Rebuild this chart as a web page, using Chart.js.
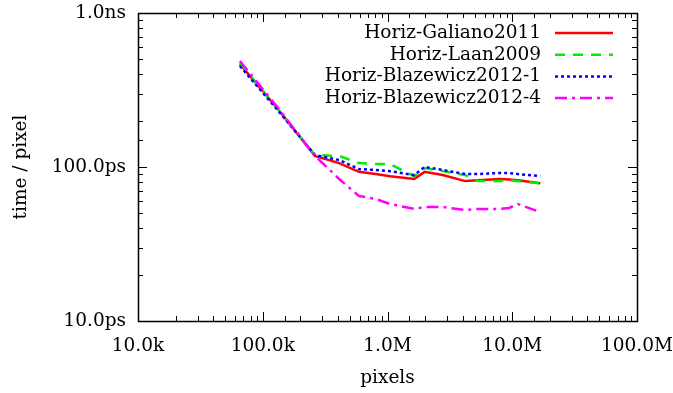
<!DOCTYPE html>
<html>
<head>
<meta charset="utf-8">
<script src="https://cdn.jsdelivr.net/npm/chart.js@4/dist/chart.umd.min.js"></script>
<style>
  html, body { margin: 0; padding: 0; background: #fff; }
  canvas { display: block; }
</style>
</head>
<body>
<canvas id="timingChart" width="673" height="393"></canvas>
<script>
// image sizes (pixels) and time per pixel (ps) for each filter
const pixelCounts = [65536, 131072, 262144, 409600, 589824, 802816, 1048576, 1638400,
  1982464, 2768896, 4194304, 5308416, 7929856, 9437184, 11075584, 16777216];
const galiano2011 = [466, 240, 118, 106, 93, 90, 87, 83.5, 93, 88.6, 81, 82, 83.5, 83, 82, 78.4];
const laan2009 = [473, 240, 119.6, 118, 106, 104.5, 104.5, 87, 98.5, 94, 88.6, 81, 81, 82, 81, 78.4];
const blazewicz1 = [453, 235, 119.6, 111, 97, 95.6, 94, 88.6, 100, 95.6, 90, 90, 91.4, 91.4, 90, 87.3];
const blazewicz4 = [488, 245, 118, 83.6, 64.8, 62.1, 57.5, 53.4, 55, 55, 52.6, 53.4, 53.4, 54.2, 57.5, 51];

const seriesNames = ["Horiz-Galiano2011", "Horiz-Laan2009", "Horiz-Blazewicz2012-1", "Horiz-Blazewicz2012-4"];

const xTickValues = [1e4, 1e5, 1e6, 1e7, 1e8];
const xTickLabels = ["10.0k", "100.0k", "1.0M", "10.0M", "100.0M"];
const yTickValues = [10, 100, 1000];
const yTickLabels = ["10.0ps", "100.0ps", "1.0ns"];

const FONT = "'DejaVu Serif', 'Liberation Serif', serif";
const FONT_SIZE = 18.5;

function toPoints(values) {
  return values.map((v, i) => ({ x: pixelCounts[i], y: v }));
}

function decadeLabel(values, labels, v) {
  const i = values.findIndex(t => Math.abs(t - v) / t < 1e-6);
  return i >= 0 ? labels[i] : "";
}

function isDecade(v) {
  const e = Math.log10(v);
  return Math.abs(e - Math.round(e)) < 1e-6;
}

// gnuplot style box with inward ticks on all four sides
const frameTicks = {
  id: "frameTicks",
  afterDatasetsDraw(chart) {
    const { ctx, chartArea, scales } = chart;
    const { left, right, top, bottom } = chartArea;
    ctx.save();
    ctx.strokeStyle = "#000";
    ctx.lineWidth = 1;
    ctx.beginPath();
    scales.x.ticks.forEach(t => {
      const px = Math.round(scales.x.getPixelForValue(t.value)) + 0.5;
      const len = isDecade(t.value) ? 9 : 5;
      ctx.moveTo(px, bottom); ctx.lineTo(px, bottom - len);
      ctx.moveTo(px, top); ctx.lineTo(px, top + len);
    });
    scales.y.ticks.forEach(t => {
      const py = Math.round(scales.y.getPixelForValue(t.value)) + 0.5;
      const len = isDecade(t.value) ? 9 : 5;
      ctx.moveTo(left, py); ctx.lineTo(left + len, py);
      ctx.moveTo(right, py); ctx.lineTo(right - len, py);
    });
    ctx.stroke();
    ctx.lineWidth = 1.5;
    ctx.strokeRect(Math.round(left) + 0.5, Math.round(top) + 0.5,
      Math.round(right - left), Math.round(bottom - top));
    ctx.restore();
  }
};

// key in the top right corner: right aligned text, line sample after it
const keyBox = {
  id: "keyBox",
  afterDraw(chart) {
    const { ctx } = chart;
    ctx.save();
    ctx.font = FONT_SIZE + "px " + FONT;
    ctx.fillStyle = "#000";
    ctx.textAlign = "right";
    ctx.textBaseline = "middle";
    chart.data.datasets.forEach((ds, i) => {
      const y = 33 + i * 21.7;
      ctx.fillText(ds.label, 541, y);
      ctx.beginPath();
      ctx.strokeStyle = ds.borderColor;
      ctx.lineWidth = ds.borderWidth;
      ctx.setLineDash(ds.borderDash || []);
      ctx.moveTo(555, y);
      ctx.lineTo(613, y);
      ctx.stroke();
    });
    ctx.restore();
  }
};

const colors = ["#ff0000", "#00ee00", "#0000ff", "#ff00ff"];
const dashes = [[], [10, 8], [3, 3], [12, 5, 3, 5]];
const seriesValues = [galiano2011, laan2009, blazewicz1, blazewicz4];

new Chart(document.getElementById("timingChart"), {
  type: "line",
  data: {
    datasets: seriesValues.map((vals, i) => ({
      label: seriesNames[i],
      data: toPoints(vals),
      borderColor: colors[i],
      backgroundColor: colors[i],
      borderWidth: 2.5,
      borderDash: dashes[i],
      borderCapStyle: "butt",
      pointRadius: 0,
      tension: 0,
      fill: false,
      order: seriesValues.length - i
    }))
  },
  options: {
    responsive: false,
    animation: false,
    events: [],
    layout: { padding: { top: 13, right: 36, left: 0, bottom: 0 } },
    plugins: {
      legend: { display: false },
      tooltip: { enabled: false }
    },
    scales: {
      x: {
        type: "logarithmic",
        min: 1e4,
        max: 1e8,
        grid: { display: false, drawTicks: false },
        border: { display: false },
        ticks: {
          autoSkip: false,
          maxRotation: 0,
          padding: 14,
          color: "#000",
          font: { family: FONT, size: FONT_SIZE },
          callback: v => decadeLabel(xTickValues, xTickLabels, v)
        },
        title: {
          display: true,
          text: "pixels",
          color: "#000",
          font: { family: FONT, size: FONT_SIZE },
          padding: { top: 4, bottom: 4 }
        },
        afterFit: scale => {
          scale.height = 72;
          scale.paddingLeft = 0;
          scale.paddingRight = 0;
        }
      },
      y: {
        type: "logarithmic",
        min: 10,
        max: 1000,
        grid: { display: false, drawTicks: false },
        border: { display: false },
        ticks: {
          autoSkip: false,
          padding: 12,
          color: "#000",
          font: { family: FONT, size: FONT_SIZE },
          callback: v => decadeLabel(yTickValues, yTickLabels, v)
        },
        title: {
          display: true,
          text: "time / pixel",
          color: "#000",
          font: { family: FONT, size: FONT_SIZE },
          padding: { top: 10, bottom: 4 }
        },
        afterFit: scale => {
          scale.width = 138;
          scale.paddingTop = 0;
          scale.paddingBottom = 0;
        }
      }
    }
  },
  plugins: [frameTicks, keyBox]
});
</script>
</body>
</html>
